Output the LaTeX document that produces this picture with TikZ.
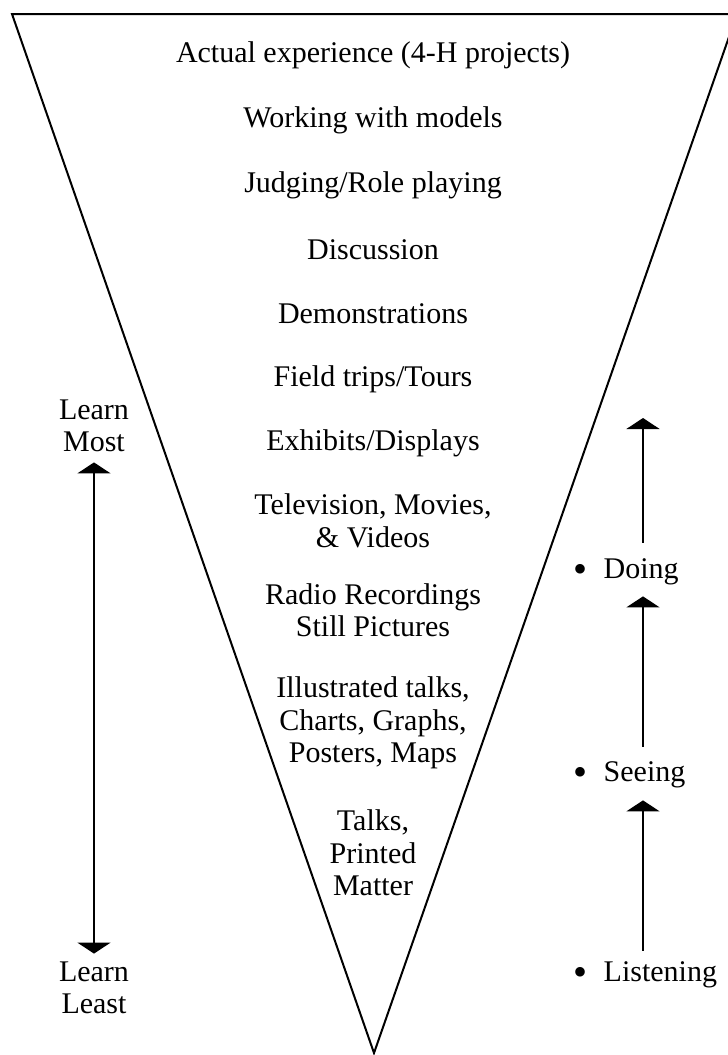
\documentclass[tikz,border=0pt]{standalone}
\usepackage{fontspec}
\setmainfont{Liberation Serif}
\usepackage{tikz}
\usetikzlibrary{arrows.meta, positioning, calc}

\newcommand{\conefont}{\fontsize{30}{32.5}\selectfont}
\newcommand{\bigbullet}{\raisebox{-3.5pt}{\fontsize{40}{40}\selectfont\textbullet}\hspace{0.55em}}

\tikzset{
  item/.style={align=center, inner sep=0pt, font=\conefont},
  side/.style={anchor=west, inner sep=0pt, font=\conefont},
  upline/.style={line width=2pt, -{Triangle[width=33pt,length=11pt]}},
  bothline/.style={line width=2pt, {Triangle[width=33pt,length=11pt]}-{Triangle[width=33pt,length=11pt]}},
}

\begin{document}
\begin{tikzpicture}[x=1pt, y=-1pt]
\useasboundingbox (0,0) rectangle (728,1055);
\clip (0,0) rectangle (728,1055);

% the cone
\draw[line width=2pt] (12,14) -- (737,14) -- (374,1053) -- cycle;

% methods, from most to least involvement
\node[item] (actual) at (373,55) {Actual experience (4-H projects)};
\node[item] (models) at (373,120) {Working with models};
\node[item] (judging) at (373,185) {Judging/Role playing};
\node[item] (discussion) at (373,250) {Discussion};
\node[item] (demos) at (373,314) {Demonstrations};
\node[item] (field) at (373,379) {Field trips/Tours};
\node[item] (exhibits) at (373,443) {Exhibits/Displays};
\node[item] (tv) at (373,521) {Television, Movies,\\\& Videos};
\node[item] (radio) at (373,610) {Radio Recordings\\Still Pictures};
\node[item] (illustrated) at (373,723) {Illustrated talks,\\Charts, Graphs,\\Posters, Maps};
\node[item] (talks) at (373,853) {Talks,\\Printed\\Matter};

% left scale
\node[item] (lmost) at (94,426) {Learn\\Most};
\node[item] (lleast) at (94,988) {Learn\\Least};
\draw[bothline, shorten <=10pt, shorten >=8pt] (lmost) -- (lleast);

% right scale
\node[side] (doing) at (573,572) {\bigbullet Doing};
\node[side] (seeing) at (573,775) {\bigbullet Seeing};
\node[side] (listening) at (573,975) {\bigbullet Listening};
\coordinate (shaft) at (643,418);

\draw[upline, shorten <=11pt, shorten >=12pt] (listening.north -| shaft) -- (seeing.south -| shaft);
\draw[upline, shorten <=15pt, shorten >=11pt] (seeing.north -| shaft) -- (doing.south -| shaft);
\draw[upline, shorten <=16pt] (doing.north -| shaft) -- (shaft);
\end{tikzpicture}
\end{document}
